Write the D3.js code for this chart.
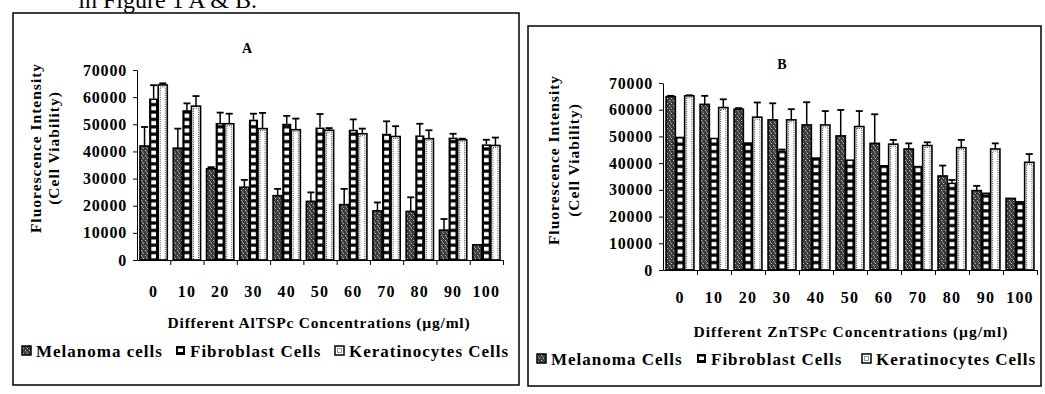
<!DOCTYPE html>
<html>
<head>
<meta charset="utf-8">
<script src="https://cdn.jsdelivr.net/npm/d3@7/dist/d3.min.js"></script>
<style>
  body { margin: 0; background: #fff; }
  svg text { font-family: "Liberation Serif", "Times New Roman", serif; fill: #000; }
</style>
</head>
<body>
<script>
// concentrations (µg/ml) on the x axis of both panels
const concentrations = ["0", "10", "20", "30", "40", "50", "60", "70", "80", "90", "100"];
const yTicks = [0, 10000, 20000, 30000, 40000, 50000, 60000, 70000];

const seriesA = ["Melanoma cells", "Fibroblast Cells", "Keratinocytes Cells"];
const seriesB = ["Melanoma Cells", "Fibroblast Cells", "Keratinocytes Cells"];

// panel A - AlTSPc
const melanomaA = [42000, 41200, 33600, 26800, 23700, 21600, 20400, 18100, 17900, 11000, 5600];
const melanomaAErr = [7000, 7200, 600, 2700, 2500, 3300, 5800, 3100, 5200, 4100, 0];
const fibroblastA = [59500, 55200, 50500, 51700, 50200, 48800, 48000, 46500, 45900, 45100, 42600];
const fibroblastAErr = [4900, 2500, 3800, 2200, 2900, 5000, 3800, 4600, 4300, 1400, 1700];
const keratinA = [64500, 56700, 50200, 48400, 48000, 47800, 46500, 45500, 44700, 44300, 42200];
const keratinAErr = [600, 3700, 3700, 5800, 4100, 800, 1900, 3800, 3100, 400, 2900];

// panel B - ZnTSPc
const melanomaB = [64900, 62000, 60200, 56200, 54300, 50200, 47400, 45300, 35200, 29700, 26800];
const melanomaBErr = [300, 3200, 400, 6200, 8500, 9700, 10900, 2100, 3900, 1800, 0];
const fibroblastB = [49900, 49500, 47800, 44700, 42200, 41400, 39300, 39000, 32700, 29000, 25800];
const fibroblastBErr = [0, 0, 0, 400, 0, 0, 0, 0, 1000, 0, 0];
const keratinB = [65200, 60800, 57200, 56200, 54300, 53700, 47100, 46600, 45800, 45300, 40300];
const keratinBErr = [200, 3100, 5500, 4000, 5200, 5800, 1600, 1200, 2900, 2100, 3100];

const svg = d3.select("body").append("svg")
  .attr("width", 1045)
  .attr("height", 394);

// fill patterns
const defs = svg.append("defs");
const mel = defs.append("pattern").attr("id", "melPat")
  .attr("patternUnits", "userSpaceOnUse").attr("width", 4).attr("height", 5);
mel.append("rect").attr("width", 4).attr("height", 5).attr("fill", "#3c3c3c");
[[1, 0], [3, 3], [2, 1.5]].forEach(p => {
  mel.append("rect").attr("x", p[0]).attr("y", p[1]).attr("width", 1).attr("height", 1).attr("fill", "#bdbdbd");
});

function drawPanel(cfg) {
  const g = svg.append("g");

  // frame
  g.append("rect")
    .attr("x", cfg.box[0]).attr("y", cfg.box[1])
    .attr("width", cfg.box[2]).attr("height", cfg.box[3])
    .attr("fill", "none").attr("stroke", "#000").attr("stroke-width", 1.5);

  g.append("text")
    .attr("x", cfg.titlePos[0]).attr("y", cfg.titlePos[1])
    .attr("text-anchor", "middle")
    .style("font-weight", "bold").style("font-size", "14px")
    .text(cfg.title);

  let x0 = d3.scaleBand().domain(concentrations).range(cfg.xRange)
    .paddingInner(0.18).paddingOuter(0.09);
  let x1 = d3.scaleBand().domain(cfg.series).range([0, x0.bandwidth()]);
  let y = d3.scaleLinear().domain([0, 70000]).range(cfg.yRange);
  let xEdge = d3.scaleLinear().domain([0, concentrations.length]).range(cfg.xRange);

  // stripes for fibroblast, aligned to the x axis
  const st = defs.append("pattern").attr("id", "stripe" + cfg.title)
    .attr("patternUnits", "userSpaceOnUse").attr("width", 4).attr("height", 7.4)
    .attr("y", cfg.yRange[0]);
  st.append("rect").attr("width", 4).attr("height", 7.4).attr("fill", "#000");
  st.append("rect").attr("y", 1.6).attr("width", 4).attr("height", 4.2).attr("fill", "#fff");

  const values = [cfg.mel, cfg.fib, cfg.ker];
  const errs = [cfg.melErr, cfg.fibErr, cfg.kerErr];

  concentrations.forEach((c, i) => {
    cfg.series.forEach((s, k) => {
      let v = values[k][i];
      let bx = x0(c) + x1(s), bw = x1.bandwidth();
      let top = y(v), h = y(0) - y(v);
      // error bar (upper only)
      let e = errs[k][i];
      if (e > 0) {
        let cx = bx + bw / 2;
        g.append("line").attr("x1", cx).attr("x2", cx)
          .attr("y1", top).attr("y2", y(v + e))
          .attr("stroke", "#000").attr("stroke-width", 1.5);
        g.append("line").attr("x1", cx - 3.5).attr("x2", cx + 3.5)
          .attr("y1", y(v + e)).attr("y2", y(v + e))
          .attr("stroke", "#000").attr("stroke-width", 1.8);
      }
      if (k == 0) {
        g.append("rect").attr("x", bx).attr("y", top).attr("width", bw).attr("height", h)
          .attr("fill", "url(#melPat)").attr("stroke", "#000").attr("stroke-width", 1.6);
      } else if (k == 1) {
        g.append("rect").attr("x", bx).attr("y", top).attr("width", bw).attr("height", h)
          .attr("fill", "#000");
        g.append("rect").attr("x", bx + 2.2).attr("y", top + 1.5).attr("width", bw - 4.4)
          .attr("height", Math.max(0, h - 1.5))
          .attr("fill", "url(#stripe" + cfg.title + ")");
      } else {
        g.append("rect").attr("x", bx).attr("y", top).attr("width", bw).attr("height", h)
          .attr("fill", "#fff").attr("stroke", "#000").attr("stroke-width", 1.6);
        g.append("rect").attr("x", bx + 2).attr("y", top + 2).attr("width", bw - 4)
          .attr("height", Math.max(0, h - 2))
          .attr("fill", "none").attr("stroke", "#000").attr("stroke-width", 0.8)
          .attr("stroke-dasharray", "1,1.2");
      }
    });
  });

  // y axis
  let yAxis = g.append("g")
    .attr("transform", "translate(" + cfg.xRange[0] + ",0)")
    .call(d3.axisLeft(y).tickValues(yTicks).tickSize(4).tickPadding(6).tickSizeOuter(0).tickFormat(d3.format("d")));
  yAxis.selectAll("text")
    .style("font-size", "16px").style("font-weight", "bold")
    .style("letter-spacing", "0.8px").style("font-family", "Liberation Serif");

  // x axis line with ticks at group edges
  g.append("g")
    .attr("transform", "translate(0," + cfg.yRange[0] + ")")
    .call(d3.axisBottom(xEdge).tickValues(d3.range(1, concentrations.length + 1))
      .tickSize(5).tickSizeOuter(0).tickFormat(""));

  // category labels
  let xl = g.append("g")
    .attr("transform", "translate(0," + cfg.xLabelY + ")")
    .call(d3.axisBottom(x0).tickSize(0).tickPadding(0));
  xl.select(".domain").remove();
  xl.selectAll("text")
    .style("font-size", "16px").style("font-weight", "bold")
    .style("letter-spacing", "1.2px").style("font-family", "Liberation Serif");

  // axis titles
  g.append("text")
    .attr("transform", "translate(" + cfg.yTitleX[0] + "," + cfg.yTitleY + ") rotate(-90)")
    .attr("text-anchor", "middle")
    .style("font-size", "15.5px").style("font-weight", "bold").style("letter-spacing", "1px")
    .text("Fluorescence Intensity");
  g.append("text")
    .attr("transform", "translate(" + cfg.yTitleX[1] + "," + cfg.yTitleY + ") rotate(-90)")
    .attr("text-anchor", "middle")
    .style("font-size", "15.5px").style("font-weight", "bold").style("letter-spacing", "1px")
    .text("(Cell Viability)");

  g.append("text")
    .attr("x", cfg.xTitlePos[0]).attr("y", cfg.xTitlePos[1])
    .attr("text-anchor", "middle")
    .style("font-size", "15.5px").style("font-weight", "bold")
    .style("letter-spacing", cfg.xTitleSpacing)
    .text(cfg.xTitle);

  // legend
  let lx = cfg.legendX;
  cfg.series.forEach((s, k) => {
    let sx = lx[k], sy = cfg.legendY - 11;
    if (k == 0) {
      g.append("rect").attr("x", sx).attr("y", sy).attr("width", 9).attr("height", 9)
        .attr("fill", "url(#melPat)").attr("stroke", "#000").attr("stroke-width", 1.5);
    } else if (k == 1) {
      g.append("rect").attr("x", sx).attr("y", sy).attr("width", 9).attr("height", 9)
        .attr("fill", "#000");
      g.append("rect").attr("x", sx + 2).attr("y", sy + 2.5).attr("width", 5).attr("height", 3.5)
        .attr("fill", "#fff");
    } else {
      g.append("rect").attr("x", sx).attr("y", sy).attr("width", 9).attr("height", 9)
        .attr("fill", "#fff").attr("stroke", "#000").attr("stroke-width", 1.5);
      g.append("rect").attr("x", sx + 2.5).attr("y", sy + 2.5).attr("width", 4).attr("height", 4)
        .attr("fill", "none").attr("stroke", "#000").attr("stroke-width", 0.8)
        .attr("stroke-dasharray", "1,1");
    }
    g.append("text")
      .attr("x", sx + 14).attr("y", cfg.legendY)
      .style("font-size", "17px").style("font-weight", "bold")
      .style("letter-spacing", "1px")
      .text(s);
  });
}

drawPanel({
  title: "A", titlePos: [247, 53], box: [13, 13, 506, 372],
  series: seriesA, mel: melanomaA, melErr: melanomaAErr,
  fib: fibroblastA, fibErr: fibroblastAErr, ker: keratinA, kerErr: keratinAErr,
  xRange: [137, 503], yRange: [260, 70],
  xLabelY: 286, yTitleX: [41, 59], yTitleY: 148,
  xTitle: "Different AlTSPc Concentrations (\u00b5g/ml)", xTitlePos: [319, 328], xTitleSpacing: "0.8px",
  legendX: [22, 176, 335], legendY: 357
});

drawPanel({
  title: "B", titlePos: [782, 69], box: [528, 26, 513, 360],
  series: seriesB, mel: melanomaB, melErr: melanomaBErr,
  fib: fibroblastB, fibErr: fibroblastBErr, ker: keratinB, kerErr: keratinBErr,
  xRange: [663, 1037], yRange: [270, 83],
  xLabelY: 292, yTitleX: [559, 579], yTitleY: 160,
  xTitle: "Different ZnTSPc Concentrations (\u00b5g/ml)", xTitlePos: [851, 337], xTitleSpacing: "1px",
  legendX: [537, 697, 862], legendY: 365
});

// caption fragment cut at the top of the scan
svg.append("text")
  .attr("x", 257).attr("y", 8)
  .attr("text-anchor", "end")
  .style("font-size", "24px")
  .text("in Figure 1 A & B.");
</script>
</body>
</html>
